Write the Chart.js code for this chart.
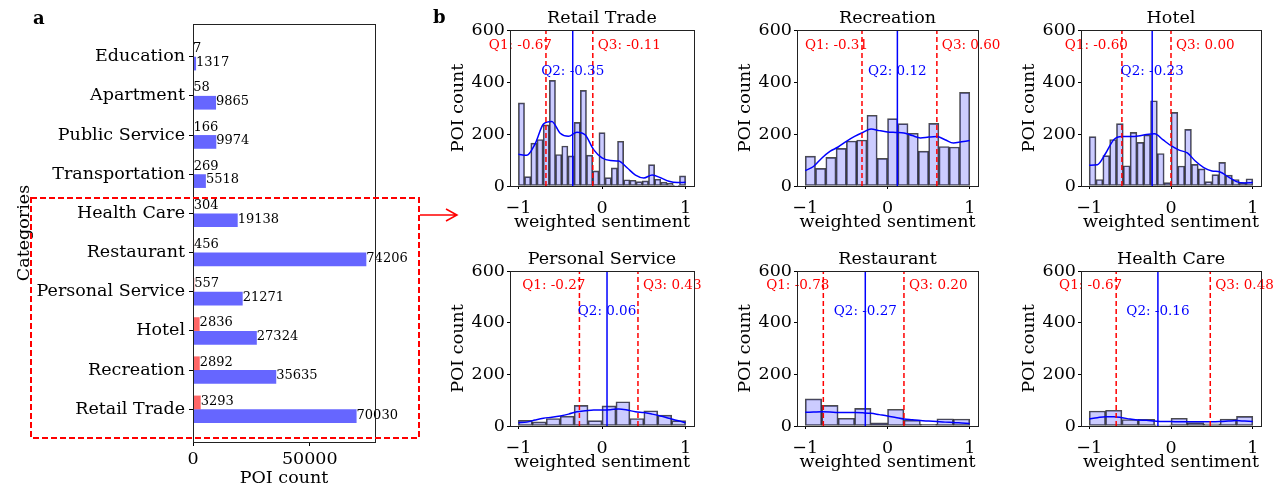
<!DOCTYPE html>
<html lang="en">
<head>
<meta charset="UTF-8">
<title>POI counts and weighted sentiment</title>
<script src="https://cdn.jsdelivr.net/npm/chart.js"></script>
<style>
  body { margin: 0; background: #fff; }
  #wrap { position: relative; width: 1283px; height: 492px; overflow: hidden; }
  canvas { position: absolute; }
</style>
</head>
<body>
<div id="wrap">
  <canvas id="countChart" width="470" height="492" style="left:0;top:0"></canvas>
  <canvas id="h0"></canvas>
  <canvas id="h1"></canvas>
  <canvas id="h2"></canvas>
  <canvas id="h3"></canvas>
  <canvas id="h4"></canvas>
  <canvas id="h5"></canvas>
</div>
<script>
// ---- panel a: POI counts per category ----
const categories = ['Education', 'Apartment', 'Public Service', 'Transportation', 'Health Care',
  'Restaurant', 'Personal Service', 'Hotel', 'Recreation', 'Retail Trade'];
const sentimentPoiCounts = [7, 58, 166, 269, 304, 456, 557, 2836, 2892, 3293];
const allPoiCounts = [1317, 9865, 9974, 5518, 19138, 74206, 21271, 27324, 35635, 70030];
const countTicks = [0, 50000];

// ---- panel b: weighted sentiment histograms ----
const panelTitles = ['Retail Trade', 'Recreation', 'Hotel', 'Personal Service', 'Restaurant', 'Health Care'];
const retailCounts = [320, 36, 165, 179, 235, 406, 121, 154, 116, 245, 368, 119, 58, 205, 32, 70, 172, 24, 22, 17, 20, 82, 26, 15, 10, 3, 39];
const recreationCounts = [115, 68, 110, 145, 173, 177, 272, 106, 259, 240, 203, 134, 241, 152, 150, 360];
const hotelCounts = [190, 25, 117, 179, 240, 78, 206, 168, 196, 328, 125, 13, 283, 77, 218, 83, 66, 17, 44, 91, 42, 25, 13, 28];
const personalCounts = [22, 16, 29, 38, 80, 21, 78, 94, 29, 59, 42, 21];
const restaurantCounts = [105, 80, 30, 68, 12, 65, 23, 6, 28, 27];
const healthCounts = [58, 61, 25, 26, 5, 30, 13, 8, 27, 37];

const kdeX = [-1, -0.9, -0.8, -0.7, -0.6, -0.5, -0.4, -0.3, -0.2, -0.1, 0, 0.1, 0.2, 0.3, 0.4, 0.5, 0.6, 0.7, 0.8, 0.9, 1];
const retailKde = [122, 118, 162, 238, 248, 203, 191, 207, 196, 140, 108, 98, 96, 70, 42, 31, 42, 32, 18, 13, 14];
const recreationKde = [59, 75, 107, 133, 150, 172, 191, 206, 219, 213, 208, 206, 204, 194, 185, 188, 190, 178, 165, 170, 175];
const hotelKde = [80, 82, 125, 178, 190, 190, 192, 198, 201, 178, 155, 138, 127, 95, 71, 58, 54, 35, 17, 12, 13];
const personalKde = [13, 15, 23, 30, 34, 39, 46, 55, 59, 62, 62, 63, 66, 62, 55, 52, 46, 39, 30, 21, 13];
const restaurantKde = [53, 54, 55, 54, 52, 52, 52, 51, 49, 44, 39, 33, 27, 24, 21, 19, 17, 15, 14, 12, 10];
const healthKde = [27, 32, 36, 36, 32, 27, 23, 22, 19, 17, 17, 16, 16, 16, 16, 16, 17, 19, 21, 19, 17];

const q1Values = [-0.67, -0.31, -0.60, -0.27, -0.78, -0.67];
const q2Values = [-0.35, 0.12, -0.23, 0.06, -0.27, -0.16];
const q3Values = [-0.11, 0.60, 0.00, 0.43, 0.20, 0.48];
const sentimentTicks = [-1, 0, 1];
const poiTicks = [0, 200, 400, 600];

const FONT = "'DejaVu Serif', serif";

// box around the plot area (matplotlib spines)
const frame = {
  id: 'frame',
  afterDraw(chart) {
    const a = chart.chartArea, ctx = chart.ctx;
    ctx.save();
    ctx.strokeStyle = '#222';
    ctx.lineWidth = 1;
    ctx.strokeRect(Math.round(a.left) + 0.5, Math.round(a.top) + 0.5,
      Math.round(a.right - a.left), Math.round(a.bottom - a.top));
    ctx.restore();
  }
};

const valueLabels = {
  id: 'valueLabels',
  afterDatasetsDraw(chart) {
    const ctx = chart.ctx;
    ctx.save();
    ctx.font = `13px ${FONT}`;
    ctx.fillStyle = '#000';
    ctx.textAlign = 'left';
    ctx.textBaseline = 'middle';
    chart.data.datasets.forEach((ds, di) => {
      chart.getDatasetMeta(di).data.forEach((bar, i) => {
        ctx.fillText(String(ds.data[i].x), bar.x, bar.y - 1);
      });
    });
    ctx.restore();
  }
};

// red dashed highlight box, arrow and panel letters
const decorations = {
  id: 'decorations',
  afterDraw(chart) {
    const ctx = chart.ctx;
    ctx.save();
    ctx.strokeStyle = 'red';
    ctx.lineWidth = 2;
    ctx.setLineDash([6, 3]);
    ctx.strokeRect(31, 198, 388, 240);
    ctx.setLineDash([]);
    ctx.lineWidth = 1.5;
    ctx.beginPath();
    ctx.moveTo(420, 215); ctx.lineTo(457, 215);
    ctx.moveTo(446, 209); ctx.lineTo(457, 215); ctx.lineTo(446, 221);
    ctx.stroke();
    ctx.fillStyle = '#000';
    ctx.font = `bold 18px ${FONT}`;
    ctx.textBaseline = 'middle';
    ctx.fillText('a', 33, 19);
    ctx.fillText('b', 433, 18);
    ctx.restore();
  }
};

const tickFont = { family: FONT, size: 17.5 };

new Chart(document.getElementById('countChart'), {
  type: 'bar',
  data: {
    datasets: [
      {
        data: categories.map((c, i) => ({ x: sentimentPoiCounts[i], y: i })),
        backgroundColor: 'rgba(255, 0, 0, 0.6)',
        categoryPercentage: 0.7, barPercentage: 1
      },
      {
        data: categories.map((c, i) => ({ x: allPoiCounts[i], y: i })),
        backgroundColor: 'rgba(0, 0, 255, 0.6)',
        categoryPercentage: 0.7, barPercentage: 1
      }
    ]
  },
  options: {
    indexAxis: 'y',
    responsive: false,
    animation: false,
    layout: { padding: { top: 24, right: 95, left: 0, bottom: 0 } },
    plugins: { legend: { display: false }, tooltip: { enabled: false } },
    scales: {
      x: {
        type: 'linear', min: 0, max: 77916, offset: false,
        afterBuildTicks: s => { s.ticks = countTicks.map(v => ({ value: v })); },
        afterFit: s => { s.height = 50; },
        ticks: { color: '#000', font: tickFont, padding: 3, callback: v => String(v) },
        grid: { drawOnChartArea: false, tickLength: 4, color: '#000', offset: false },
        border: { display: false },
        title: { display: true, text: 'POI count', color: '#000', font: tickFont, padding: { top: 0, bottom: 3 } }
      },
      y: {
        type: 'linear', reverse: true, min: -0.835, max: 9.835, offset: false,
        afterBuildTicks: s => { s.ticks = categories.map((c, i) => ({ value: i })); },
        afterFit: s => { s.width = 193; },
        ticks: { color: '#000', font: tickFont, padding: 4, autoSkip: false, callback: v => categories[v] },
        grid: { drawOnChartArea: false, tickLength: 4, color: '#000', offset: false },
        border: { display: false },
        title: { display: true, text: 'Categories', color: '#000', font: tickFont, padding: { top: 13.5 } }
      }
    }
  },
  plugins: [frame, valueLabels, decorations]
});

const panelCounts = [retailCounts, recreationCounts, hotelCounts, personalCounts, restaurantCounts, healthCounts];
const panelKde = [retailKde, recreationKde, hotelKde, personalKde, restaurantKde, healthKde];

// plot-box placement of the 3x2 grid
const boxLeft = [510, 797, 1081];
const boxRight = [694, 978, 1261];

// quartile annotations and the panel title, centred over the plot box
const panelText = {
  id: 'panelText',
  afterDatasetsDraw(chart) {
    const k = chart.options.panelIndex;
    const x = chart.scales.x, y = chart.scales.y, ctx = chart.ctx, a = chart.chartArea;
    ctx.save();
    ctx.textBaseline = 'middle';
    ctx.font = `17.5px ${FONT}`;
    ctx.fillStyle = '#000';
    ctx.textAlign = 'center';
    ctx.fillText(panelTitles[k], (a.left + a.right) / 2, a.top - 12);
    ctx.font = `13.5px ${FONT}`;
    ctx.fillStyle = 'red';
    ctx.textAlign = 'right';
    ctx.fillText('Q1: ' + q1Values[k].toFixed(2), x.getPixelForValue(q1Values[k]) + 6, y.getPixelForValue(542));
    ctx.textAlign = 'left';
    ctx.fillText('Q3: ' + q3Values[k].toFixed(2), x.getPixelForValue(q3Values[k]) + 5, y.getPixelForValue(542));
    ctx.fillStyle = 'blue';
    ctx.textAlign = 'center';
    ctx.fillText('Q2: ' + q2Values[k].toFixed(2), x.getPixelForValue(q2Values[k]), y.getPixelForValue(442));
    ctx.restore();
  }
};

const minusTick = v => (v < 0 ? '\u2212' + Math.abs(v) : String(v));

panelTitles.forEach((title, k) => {
  const col = k % 3, row = Math.floor(k / 3);
  const canvas = document.getElementById('h' + k);
  canvas.width = boxRight[col] - boxLeft[col] + 100;
  canvas.height = row === 0 ? 240 : 252;
  canvas.style.left = (boxLeft[col] - 70) + 'px';
  canvas.style.top = (row * 240) + 'px';

  const counts = panelCounts[k];
  const n = counts.length;
  const vline = (q, color, dash) => ({
    type: 'line',
    data: [{ x: q, y: 0 }, { x: q, y: 600 }],
    borderColor: color, borderWidth: 1.5, borderDash: dash,
    pointRadius: 0, order: 0
  });

  new Chart(canvas, {
    type: 'bar',
    data: {
      datasets: [
        {
          type: 'bar',
          data: counts.map((c, i) => ({ x: -1 + (i + 0.5) * 2 / n, y: c })),
          backgroundColor: 'rgba(0, 0, 255, 0.2)',
          borderColor: 'rgba(0, 0, 0, 0.7)',
          borderWidth: 1, borderSkipped: false,
          categoryPercentage: 1, barPercentage: 1,
          order: 10
        },
        {
          type: 'line',
          data: kdeX.map((x, i) => ({ x: x, y: panelKde[k][i] })),
          borderColor: 'blue', borderWidth: 1.5, pointRadius: 0,
          cubicInterpolationMode: 'monotone',
          order: 5
        },
        vline(q1Values[k], 'red', [5, 3]),
        vline(q3Values[k], 'red', [5, 3]),
        vline(q2Values[k], 'blue', [])
      ]
    },
    options: {
      panelIndex: k,
      responsive: false,
      animation: false,
      layout: { padding: { left: 0, right: 30, top: row === 0 ? 30 : 31, bottom: row === 0 ? 0 : 12 } },
      plugins: {
        legend: { display: false },
        tooltip: { enabled: false },
        title: { display: false }
      },
      scales: {
        x: {
          type: 'linear', min: -1.1, max: 1.1, offset: false,
          afterBuildTicks: s => { s.ticks = sentimentTicks.map(v => ({ value: v })); },
          afterFit: s => { s.height = 54; },
          ticks: { color: '#000', font: tickFont, padding: 9, callback: minusTick },
          grid: { drawOnChartArea: false, tickLength: 3, color: '#000', offset: false },
          border: { display: false },
          title: { display: true, text: 'weighted sentiment', color: '#000', font: tickFont, padding: { top: 0, bottom: 7 } }
        },
        y: {
          type: 'linear', min: 0, max: 600,
          afterBuildTicks: s => { s.ticks = poiTicks.map(v => ({ value: v })); },
          afterFit: s => { s.width = 70; },
          ticks: { color: '#000', font: tickFont, padding: 2 },
          grid: { drawOnChartArea: false, tickLength: 3, color: '#000' },
          border: { display: false },
          title: { display: true, text: 'POI count', color: '#000', font: tickFont, padding: { top: 8 } }
        }
      }
    },
    plugins: [frame, panelText]
  });
});
</script>
</body>
</html>
